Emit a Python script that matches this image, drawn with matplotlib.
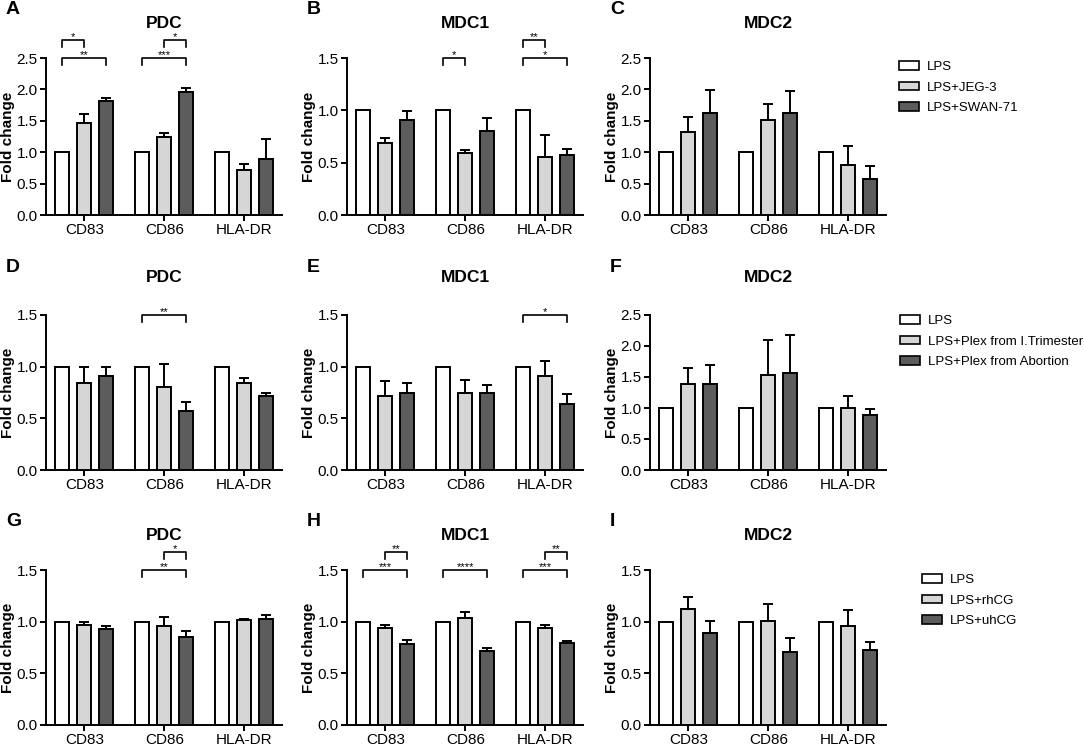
import numpy as np
import matplotlib.pyplot as plt
from matplotlib.patches import Patch

plt.rcParams['font.family'] = ['Liberation Sans', 'DejaVu Sans']

markers = ['CD83', 'CD86', 'HLA-DR']
colors = ['white', '#d6d6d6', '#5c5c5c']

# row 1: JEG-3 / SWAN-71
legend1 = ['LPS', 'LPS+JEG-3', 'LPS+SWAN-71']
A_mean = [[1, 1, 1], [1.46, 1.24, 0.72], [1.82, 1.96, 0.89]]
A_err = [[0, 0, 0], [0.15, 0.07, 0.10], [0.05, 0.06, 0.32]]
B_mean = [[1, 1, 1], [0.69, 0.59, 0.55], [0.91, 0.80, 0.57]]
B_err = [[0, 0, 0], [0.05, 0.03, 0.21], [0.08, 0.13, 0.06]]
C_mean = [[1, 1, 1], [1.32, 1.52, 0.80], [1.62, 1.63, 0.58]]
C_err = [[0, 0, 0], [0.24, 0.24, 0.30], [0.37, 0.34, 0.20]]

# row 2: placental explants
legend2 = ['LPS', 'LPS+Plex from I.Trimester', 'LPS+Plex from Abortion']
D_mean = [[1, 1, 1], [0.84, 0.80, 0.84], [0.91, 0.57, 0.72]]
D_err = [[0, 0, 0], [0.16, 0.23, 0.05], [0.09, 0.09, 0.03]]
E_mean = [[1, 1, 1], [0.72, 0.75, 0.91], [0.75, 0.75, 0.64]]
E_err = [[0, 0, 0], [0.14, 0.12, 0.14], [0.09, 0.07, 0.10]]
F_mean = [[1, 1, 1], [1.39, 1.54, 1.00], [1.39, 1.56, 0.89]]
F_err = [[0, 0, 0], [0.26, 0.56, 0.19], [0.30, 0.61, 0.09]]

# row 3: hCG
legend3 = ['LPS', 'LPS+rhCG', 'LPS+uhCG']
G_mean = [[1, 1, 1], [0.97, 0.96, 1.02], [0.93, 0.85, 1.03]]
G_err = [[0, 0, 0], [0.03, 0.09, 0.01], [0.03, 0.06, 0.03]]
H_mean = [[1, 1, 1], [0.94, 1.04, 0.94], [0.78, 0.72, 0.79]]
H_err = [[0, 0, 0], [0.03, 0.05, 0.03], [0.04, 0.03, 0.02]]
I_mean = [[1, 1, 1], [1.12, 1.01, 0.96], [0.89, 0.71, 0.73]]
I_err = [[0, 0, 0], [0.12, 0.16, 0.15], [0.12, 0.13, 0.07]]

# significance: (marker index, bar from, bar to, level 0=low 1=high, label)
A_sig = [(0, 0, 1, 1, '*'), (0, 0, 2, 0, '**'), (1, 1, 2, 1, '*'), (1, 0, 2, 0, '***')]
B_sig = [(1, 0, 1, 0, '*'), (2, 0, 1, 1, '**'), (2, 0, 2, 0, '*')]
D_sig = [(1, 0, 2, 0, '**')]
E_sig = [(2, 0, 2, 0, '*')]
G_sig = [(1, 1, 2, 1, '*'), (1, 0, 2, 0, '**')]
H_sig = [(0, 1, 2, 1, '**'), (0, 0, 2, 0, '***'), (1, 0, 2, 0, '****'),
         (2, 1, 2, 1, '**'), (2, 0, 2, 0, '***')]

W, Hh = 1084, 746
fig = plt.figure(figsize=(10.84, 7.46), dpi=100)

cols = [46, 347, 650]
col_w = 236
rows = [(58, 215), (315, 470), (570, 725)]
title_y = [23, 278, 535]
offs = [-0.275, 0, 0.275]
bw = 0.175


def panel(letter, title, col, row, means, errs, ymax, sigs):
    l = cols[col]
    t, b = rows[row]
    ax = fig.add_axes([l / W, 1 - b / Hh, col_w / W, (b - t) / Hh])
    x = np.arange(len(markers))
    for i in range(3):
        ax.bar(x + offs[i], means[i], bw, color=colors[i], edgecolor='black',
               linewidth=1.4, zorder=3)
        if i > 0:
            ax.errorbar(x + offs[i], means[i], yerr=[np.zeros(3), errs[i]],
                        fmt='none', ecolor='black', elinewidth=1.4,
                        capsize=3.5, capthick=1.4, zorder=2)
    ax.set_xlim(-0.48, 2.47)
    ax.set_ylim(0, ymax)
    ticks = np.arange(0, ymax + 0.01, 0.5)
    ax.set_yticks(ticks)
    ax.set_yticklabels(['%.1f' % v for v in ticks])
    ax.set_xticks(x)
    ax.set_xticklabels(markers)
    ax.tick_params(labelsize=11, width=1.4, length=4, pad=2, direction='out')
    for s in ['top', 'right']:
        ax.spines[s].set_visible(False)
    for s in ['left', 'bottom']:
        ax.spines[s].set_linewidth(1.4)
    ax.set_ylabel('Fold change', fontsize=11, fontweight='bold')
    ax.yaxis.set_label_coords(-31 / col_w, 0.5)
    fig.text((l + col_w / 2) / W, 1 - title_y[row] / Hh, title, fontsize=12.5,
             fontweight='bold', ha='center', va='center')
    fig.text((l - 40) / W, 1 - (t - 48) / Hh, letter, fontsize=14,
             fontweight='bold', va='center', ha='left')
    for m, a, bb, lev, lab in sigs:
        y = ymax * (1 + 0.115 * lev)
        d = ymax * 0.045
        x0, x1 = m + offs[a], m + offs[bb]
        ax.plot([x0, x0, x1, x1], [y - d, y, y, y - d], color='black', lw=1.2,
                clip_on=False)
        ax.text((x0 + x1) / 2, y, lab, ha='center', va='baseline', fontsize=8)
    return ax


panel('A', 'PDC', 0, 0, A_mean, A_err, 2.5, A_sig)
panel('B', 'MDC1', 1, 0, B_mean, B_err, 1.5, B_sig)
panel('C', 'MDC2', 2, 0, C_mean, C_err, 2.5, [])
panel('D', 'PDC', 0, 1, D_mean, D_err, 1.5, D_sig)
panel('E', 'MDC1', 1, 1, E_mean, E_err, 1.5, E_sig)
panel('F', 'MDC2', 2, 1, F_mean, F_err, 2.5, [])
panel('G', 'PDC', 0, 2, G_mean, G_err, 1.5, G_sig)
panel('H', 'MDC1', 1, 2, H_mean, H_err, 1.5, H_sig)
panel('I', 'MDC2', 2, 2, I_mean, I_err, 1.5, [])


def legend(labels, x, y):
    handles = [Patch(facecolor=c, edgecolor='black', linewidth=1.2) for c in colors]
    fig.legend(handles, labels, loc='upper left', bbox_to_anchor=(x / W, 1 - y / Hh),
               frameon=False, fontsize=9.5, handlelength=1.5, handleheight=0.6,
               labelspacing=0.65, handletextpad=0.6, borderpad=0, borderaxespad=0)


legend(legend1, 899, 61)
legend(legend2, 900, 315)
legend(legend3, 922, 574)

fig.savefig('out.png', dpi=100)
